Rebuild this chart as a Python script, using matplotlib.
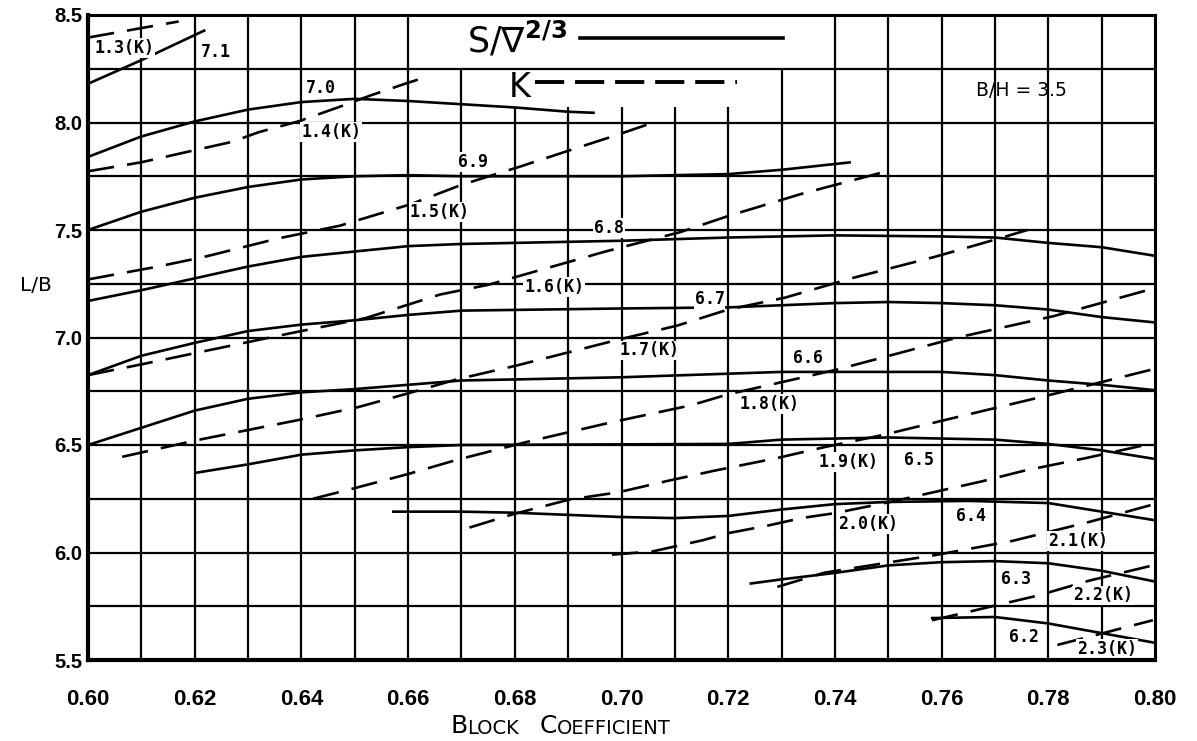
import numpy as np
import matplotlib
matplotlib.use("Agg")
import matplotlib.pyplot as plt
from matplotlib.lines import Line2D

# S / V^(2/3) contours (solid)
s71_x = [0.600, 0.610, 0.622]
s71_y = [8.18, 8.29, 8.43]
s70_x = [0.600, 0.610, 0.620, 0.630, 0.640, 0.650, 0.660, 0.670, 0.680, 0.690, 0.695]
s70_y = [7.84, 7.935, 8.005, 8.06, 8.095, 8.11, 8.10, 8.085, 8.07, 8.05, 8.045]
s69_x = [0.600, 0.610, 0.620, 0.630, 0.640, 0.650, 0.660, 0.670, 0.700, 0.720, 0.730, 0.743]
s69_y = [7.50, 7.585, 7.65, 7.70, 7.735, 7.75, 7.755, 7.75, 7.75, 7.76, 7.78, 7.815]
s68_x = [0.600, 0.610, 0.620, 0.630, 0.640, 0.650, 0.660, 0.670, 0.700, 0.720, 0.740,
         0.760, 0.770, 0.780, 0.790, 0.800]
s68_y = [7.17, 7.22, 7.275, 7.33, 7.375, 7.40, 7.425, 7.435, 7.45, 7.465, 7.475,
         7.47, 7.465, 7.44, 7.42, 7.38]
s67_x = [0.600, 0.610, 0.620, 0.630, 0.640, 0.650, 0.660, 0.670, 0.700, 0.720, 0.740,
         0.750, 0.760, 0.770, 0.780, 0.790, 0.800]
s67_y = [6.825, 6.915, 6.975, 7.03, 7.06, 7.08, 7.105, 7.125, 7.135, 7.14, 7.16,
         7.165, 7.16, 7.15, 7.13, 7.095, 7.07]
s66_x = [0.600, 0.610, 0.620, 0.630, 0.640, 0.650, 0.660, 0.670, 0.700, 0.730, 0.760,
         0.770, 0.780, 0.790, 0.800]
s66_y = [6.50, 6.58, 6.66, 6.715, 6.745, 6.76, 6.78, 6.80, 6.815, 6.84, 6.84,
         6.825, 6.80, 6.78, 6.755]
s65_x = [0.620, 0.630, 0.640, 0.650, 0.660, 0.670, 0.720, 0.730, 0.750, 0.770, 0.780, 0.790, 0.800]
s65_y = [6.37, 6.41, 6.455, 6.475, 6.49, 6.50, 6.505, 6.525, 6.535, 6.525, 6.505, 6.475, 6.435]
s64_x = [0.657, 0.670, 0.680, 0.690, 0.700, 0.710, 0.720, 0.730, 0.740, 0.750, 0.765,
         0.780, 0.790, 0.800]
s64_y = [6.19, 6.19, 6.185, 6.175, 6.165, 6.16, 6.17, 6.20, 6.225, 6.235, 6.24,
         6.23, 6.19, 6.15]
s63_x = [0.724, 0.730, 0.740, 0.750, 0.760, 0.770, 0.780, 0.790, 0.800]
s63_y = [5.855, 5.875, 5.905, 5.94, 5.955, 5.96, 5.95, 5.915, 5.865]
s62_x = [0.758, 0.770, 0.780, 0.790, 0.800]
s62_y = [5.695, 5.70, 5.67, 5.625, 5.58]

# K contours (dashed)
k13_x = [0.600, 0.617]
k13_y = [8.395, 8.47]
k14_x = [0.600, 0.610, 0.618, 0.627, 0.632, 0.6394, 0.6466, 0.6531, 0.6594, 0.6632]
k14_y = [7.773, 7.815, 7.86, 7.91, 7.955, 8.005, 8.068, 8.127, 8.18, 8.21]
k15_x = [0.600, 0.6131, 0.6218, 0.6355, 0.6472, 0.6605, 0.670, 0.681, 0.6902, 0.6989, 0.706]
k15_y = [7.27, 7.33, 7.375, 7.46, 7.52, 7.62, 7.71, 7.795, 7.87, 7.94, 8.00]
k16_x = [0.600, 0.610, 0.6225, 0.638, 0.652, 0.666, 0.675, 0.697, 0.711, 0.720, 0.734, 0.750]
k16_y = [6.825, 6.875, 6.94, 7.02, 7.09, 7.20, 7.245, 7.40, 7.49, 7.565, 7.67, 7.775]
k17_x = [0.6064, 0.6205, 0.6394, 0.6506, 0.6594, 0.6691, 0.6804, 0.6994, 0.7104, 0.720,
         0.7306, 0.7432, 0.7587, 0.770, 0.7761]
k17_y = [6.445, 6.523, 6.616, 6.676, 6.736, 6.805, 6.87, 6.99, 7.055, 7.13,
         7.185, 7.276, 7.375, 7.455, 7.50]
k18_x = [0.6422, 0.6493, 0.660, 0.669, 0.6822, 0.6982, 0.7131, 0.720, 0.7275, 0.7406,
         0.763, 0.7811, 0.800]
k18_y = [6.25, 6.295, 6.365, 6.43, 6.514, 6.606, 6.685, 6.736, 6.778, 6.852,
         7.00, 7.10, 7.23]
k19_x = [0.6715, 0.6798, 0.6902, 0.6994, 0.7081, 0.7173, 0.7293, 0.738, 0.7489, 0.7574,
         0.7798, 0.7996]
k19_y = [6.116, 6.179, 6.246, 6.28, 6.33, 6.38, 6.44, 6.49, 6.546, 6.597, 6.73, 6.852]
k20_x = [0.6982, 0.7058, 0.7154, 0.720, 0.7274, 0.7337, 0.740, 0.7507, 0.7674, 0.7754,
         0.7872, 0.800]
k20_y = [5.99, 6.005, 6.058, 6.09, 6.125, 6.16, 6.183, 6.237, 6.33, 6.38, 6.44, 6.51]
k21_x = [0.7292, 0.738, 0.7593, 0.7733, 0.7878, 0.7996]
k21_y = [5.84, 5.906, 5.99, 6.054, 6.143, 6.223]
k22_x = [0.7582, 0.7623, 0.7781, 0.7878, 0.7996]
k22_y = [5.685, 5.708, 5.80, 5.87, 5.94]
k23_x = [0.7817, 0.7996]
k23_y = [5.57, 5.685]

s_names = ["7.1", "7.0", "6.9", "6.8", "6.7", "6.6", "6.5", "6.4", "6.3", "6.2"]
k_names = ["1.3(K)", "1.4(K)", "1.5(K)", "1.6(K)", "1.7(K)", "1.8(K)",
           "1.9(K)", "2.0(K)", "2.1(K)", "2.2(K)", "2.3(K)"]

s_curves = [(s71_x, s71_y), (s70_x, s70_y), (s69_x, s69_y), (s68_x, s68_y), (s67_x, s67_y),
            (s66_x, s66_y), (s65_x, s65_y), (s64_x, s64_y), (s63_x, s63_y), (s62_x, s62_y)]
k_curves = [(k13_x, k13_y), (k14_x, k14_y), (k15_x, k15_y), (k16_x, k16_y), (k17_x, k17_y),
            (k18_x, k18_y), (k19_x, k19_y), (k20_x, k20_y), (k21_x, k21_y), (k22_x, k22_y),
            (k23_x, k23_y)]

# where the curve labels sit
s_label_pos = [(0.624, 8.33), (0.6437, 8.16), (0.6722, 7.815), (0.6977, 7.51), (0.7165, 7.18),
               (0.735, 6.905), (0.7557, 6.43), (0.7656, 6.17), (0.7739, 5.875), (0.7754, 5.605)]
k_label_pos = [(0.6068, 8.345), (0.6456, 7.955), (0.6659, 7.585), (0.6874, 7.235),
               (0.7053, 6.94), (0.7278, 6.69), (0.7425, 6.42), (0.7462, 6.134),
               (0.7855, 6.054), (0.7903, 5.80), (0.791, 5.55)]

fig = plt.figure(figsize=(11.97, 7.41), dpi=100)
ax = fig.add_axes([88 / 1197, 81 / 741, 1067 / 1197, 645 / 741])
ax.set_xlim(0.60, 0.80)
ax.set_ylim(5.5, 8.5)

# hand-drawn style grid, with gaps left for the key at the top
grid_x = np.round(np.arange(0.61, 0.795, 0.01), 2)
grid_top = np.where((grid_x >= 0.675) & (grid_x <= 0.725), 8.07,
                    np.where((grid_x >= 0.665) & (grid_x <= 0.735), 8.25, 8.5))
ax.vlines(grid_x, 5.5, grid_top, colors="black", lw=1.6, zorder=1)
grid_y = np.arange(5.75, 8.3, 0.25)
ax.hlines(grid_y, 0.60, 0.80, colors="black", lw=1.6, zorder=1)

for cx, cy in s_curves:
    ax.plot(cx, cy, color="black", lw=1.9, solid_capstyle="butt", zorder=3)
for cx, cy in k_curves:
    ax.plot(cx, cy, color="black", lw=1.9, ls=(0, (10, 5)), zorder=3)

lab_font = dict(family="DejaVu Sans Mono", fontweight="bold", fontsize=12,
                ha="center", va="center", zorder=4,
                bbox=dict(facecolor="white", edgecolor="none", pad=0.6))
for name, (lx, ly) in zip(s_names, s_label_pos):
    ax.text(lx, ly, name, **lab_font)
for name, (lx, ly) in zip(k_names, k_label_pos):
    ax.text(lx, ly, name, **lab_font)

# key
ax.text(0.3552, 0.9411, r"S/$\nabla^{\mathbf{2/3}}$", transform=ax.transAxes,
        fontsize=25, ha="left", va="baseline")
ax.add_line(Line2D([0.4611, 0.6514], [0.9643, 0.9643], transform=ax.transAxes,
                   color="black", lw=2.6))
ax.text(0.3945, 0.8729, "K", transform=ax.transAxes, fontsize=24, ha="left", va="baseline")
ax.add_line(Line2D([0.419, 0.6083], [0.8961, 0.8961], transform=ax.transAxes,
                   color="black", lw=2.8, ls=(0, (7.5, 2.8))))
ax.text(0.8744, 0.8837, "B/H = 3.5", transform=ax.transAxes, fontsize=13.5,
        ha="center", va="center")

# axes and ticks
for side in ["left", "bottom"]:
    ax.spines[side].set_linewidth(3)
for side in ["top", "right"]:
    ax.spines[side].set_linewidth(2.2)
for sp in ax.spines.values():
    sp.set_zorder(6)

xt = np.round(np.arange(0.60, 0.801, 0.02), 2)
yt = np.round(np.arange(5.5, 8.51, 0.5), 1)
ax.set_xticks(xt)
ax.set_xticklabels([f"{v:.2f}" for v in xt], fontfamily="Liberation Sans",
                   fontweight="bold", fontsize=16)
ax.set_yticks(yt)
ax.set_yticklabels([f"{v:.1f}" for v in yt], fontfamily="Liberation Sans",
                   fontweight="bold", fontsize=14.5)
ax.tick_params(axis="x", length=0, pad=21)
ax.tick_params(axis="y", length=0, pad=4)

ax.text(-0.049, 0.581, "L/B", transform=ax.transAxes, fontsize=14.5,
        ha="center", va="center")

# BLOCK COEFFICIENT in small caps
t1 = fig.text(0.376, 0.004, "B", fontsize=18, va="bottom", ha="left")
t2 = ax.annotate("LOCK", xy=(1, 0), xycoords=t1, fontsize=14, va="bottom", ha="left")
t3 = ax.annotate("C", xy=(1, 0), xycoords=t2, xytext=(15, 0), textcoords="offset points",
                 fontsize=18, va="bottom", ha="left")
ax.annotate("OEFFICIENT", xy=(1, 0), xycoords=t3, fontsize=14, va="bottom", ha="left")

fig.savefig("out.png", dpi=100)
